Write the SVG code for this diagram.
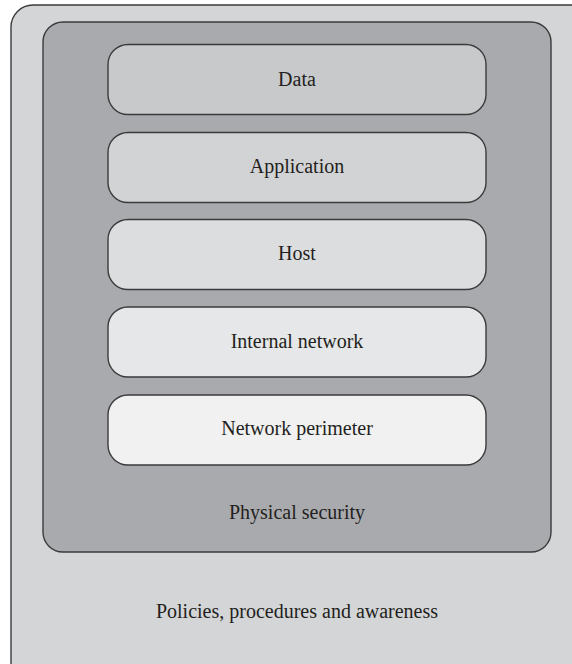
<svg xmlns="http://www.w3.org/2000/svg" width="572" height="664" viewBox="0 0 572 664">
<style>
.frame{stroke:#3b3b3c;stroke-width:1.4}
.lbl{font-family:"Liberation Serif","DejaVu Serif",serif;font-size:20px;fill:#231f20;text-anchor:middle}
</style>
<rect width="572" height="664" fill="#ffffff"/>
<g id="policies">
<rect class="frame" x="11" y="5" width="600" height="700" rx="22" fill="#d4d5d7"/>
<text class="lbl" x="297" y="618">Policies, procedures and awareness</text>
</g>
<g id="physical">
<rect class="frame" x="43" y="22" width="508" height="530" rx="20" fill="#a9aaad"/>
<text class="lbl" x="297" y="519">Physical security</text>
</g>
<g id="data">
<rect class="frame" x="108" y="44.5" width="378" height="70" rx="20" fill="#c8c9cb"/>
<text class="lbl" x="297" y="86">Data</text>
</g>
<g id="application">
<rect class="frame" x="108" y="132.5" width="378" height="70" rx="20" fill="#d2d3d5"/>
<text class="lbl" x="297" y="173">Application</text>
</g>
<g id="host">
<rect class="frame" x="108" y="219.5" width="378" height="70" rx="20" fill="#dcdddf"/>
<text class="lbl" x="297" y="260">Host</text>
</g>
<g id="internal">
<rect class="frame" x="108" y="307" width="378" height="70" rx="20" fill="#e6e7e8"/>
<text class="lbl" x="297" y="347.5">Internal network</text>
</g>
<g id="perimeter">
<rect class="frame" x="108" y="395" width="378" height="70" rx="20" fill="#f1f1f2"/>
<text class="lbl" x="297" y="434.5">Network perimeter</text>
</g>
<g id="connectors"/>
</svg>
